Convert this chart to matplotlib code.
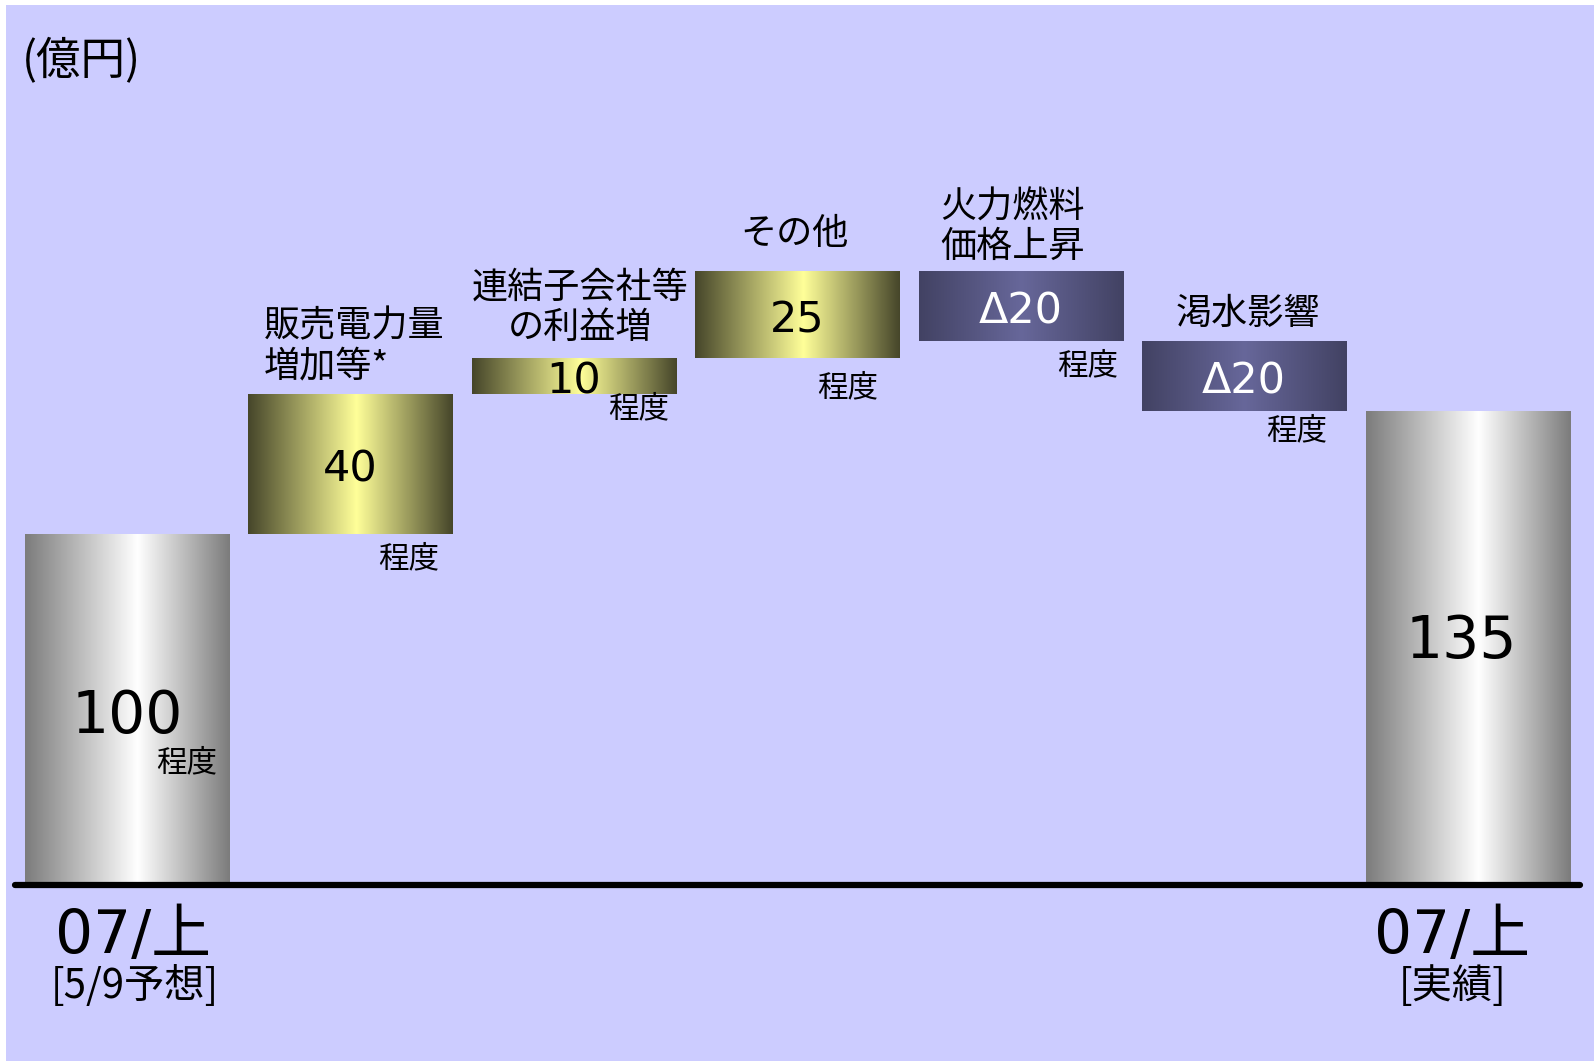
import numpy as np
import matplotlib.pyplot as plt
from matplotlib.colors import LinearSegmentedColormap
from matplotlib.patches import Rectangle

# data
steps = ['07/上\n[5/9予想]', '販売電力量\n増加等*', '連結子会社等\nの利益増', 'その他',
         '火力燃料\n価格上昇', '渇水影響', '07/上\n[実績]']
changes = [100, 40, 10, 25, -20, -20, 135]
kinds = ['total', 'up', 'up', 'up', 'down', 'down', 'total']
value_labels = ['100', '40', '10', '25', 'Δ20', 'Δ20', '135']
unit_label = '(億円)'
approx_label = '程度'

# waterfall bottoms
bottoms, heights = [], []
level = 0
for v, k in zip(changes, kinds):
    if k == 'total':
        bottoms.append(0)
        heights.append(v)
        level = v
    elif k == 'up':
        bottoms.append(level)
        heights.append(v)
        level += v
    else:
        level += v
        bottoms.append(level)
        heights.append(-v)

jp = ['Noto Sans CJK JP', 'DejaVu Sans']
num = ['DejaVu Sans', 'Noto Sans CJK JP']

fig = plt.figure(figsize=(15.94, 10.61), dpi=100, facecolor='white')
ax = fig.add_axes([0, 0, 1, 1])
ax.set_facecolor('none')
ax.axis('off')
ax.add_patch(Rectangle((6 / 1594, 0), 1, 1 - 5 / 1061, transform=fig.transFigure,
                       facecolor='#ccccff', edgecolor='none', zorder=0))

cmaps = {
    'total': LinearSegmentedColormap.from_list('g', [(0, '#7c7c7c'), (0.55, '#ffffff'), (1, '#7c7c7c')]),
    'up': LinearSegmentedColormap.from_list('y', [(0, '#46462a'), (0.53, '#ffff99'), (1, '#46462a')]),
    'down': LinearSegmentedColormap.from_list('n', [(0, '#424263'), (0.5, '#67679a'), (1, '#424263')]),
}
grad = np.linspace(0, 1, 256).reshape(1, -1)

x = np.arange(len(steps))
width = 0.913
bars = ax.bar(x, heights, width, bottom=bottoms, color='none', edgecolor='none')
for b, k in zip(bars, kinds):
    x0, y0 = b.get_x(), b.get_y()
    im = ax.imshow(grad, cmap=cmaps[k], aspect='auto', interpolation='bicubic',
                   extent=(x0, x0 + b.get_width(), y0, y0 + b.get_height()), zorder=2)
    im.set_clip_path(b)

ax.set_xlim(-0.5664, 6.5655)
ax.set_ylim(-50.3, 252.2)

# baseline
ax.plot([-0.5, 6.505], [0, 0], color='black', lw=4.5, solid_capstyle='round', zorder=3)

# values inside bars
value_dx = [0.005, 0.0, 0.0, 0.0, 0.0, 0.0, -0.03]
value_dy = [-2.0, -1.7, -1.7, -1.7, -1.5, -1.5, 1.8]
for i, (b, h, lab, k) in enumerate(zip(bottoms, heights, value_labels, kinds)):
    size = 42 if k == 'total' else 31
    col = 'white' if k == 'down' else 'black'
    ax.text(i + value_dx[i], b + h / 2 + value_dy[i], lab, ha='center', va='center',
            fontsize=size, color=col, family=num, zorder=4)

# 程度 labels
approx_dx = [0.27, 0.264, 0.29, 0.225, 0.30, 0.234]
approx_y = [34.8, 93.0, 135.6, 141.7, 147.8, 129.3]
for i in range(6):
    ax.text(i + approx_dx[i], approx_y[i], approx_label, ha='center', va='center',
            fontsize=22, family=jp, zorder=4)

# step labels above bars
label_dx = [0, 0.02, 0.03, -0.01, -0.035, 0.015]
label_gap = [0, 2.6, 3.7, 5.4, 1.6, 2.5]
label_align = ['center', 'left', 'center', 'center', 'left', 'center']
for i in range(1, 6):
    top = bottoms[i] + heights[i]
    ax.text(i + label_dx[i], top + label_gap[i], steps[i], ha='center', va='bottom',
            multialignment=label_align[i], fontsize=26, family=jp, linespacing=1.13, zorder=4)

# category labels below baseline
cat_dx = {0: 0.03, 6: -0.07}
for i in (0, 6):
    head, sub = steps[i].split('\n')
    ax.text(i + cat_dx[i], -14.8, head, ha='center', va='center', fontsize=43, family=num)
    ax.text(i + cat_dx[i] + 0.005, -28.8, sub, ha='center', va='center', fontsize=29, family=jp)

ax.text(-0.47, 234.8, unit_label, ha='left', va='center', fontsize=32, family=jp)

fig.savefig('out.png', dpi=100, facecolor=fig.get_facecolor())
